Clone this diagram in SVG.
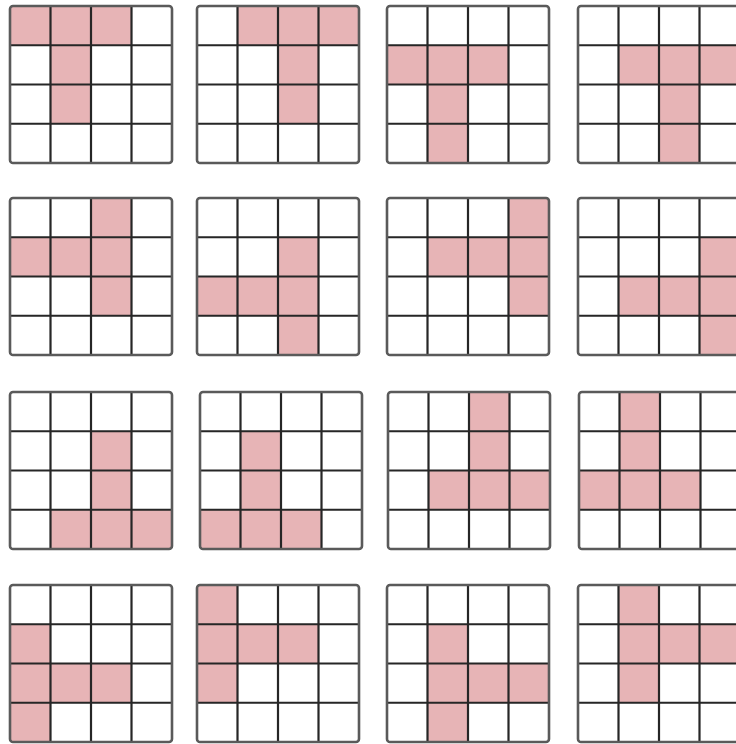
<svg xmlns="http://www.w3.org/2000/svg" width="736" height="744" viewBox="0 0 736 744">
<style>
.c{fill:#e7b4b6}
.in{fill:none;stroke:#262626;stroke-width:2.2}
.out{fill:none;stroke:#5a5a5a;stroke-width:2.6}
</style>
<defs>
<g id="lines">
<path class="in" d="M40.5 0V157M81 0V157M121.5 0V157M0 39.25H162M0 78.5H162M0 117.75H162"/>
<rect class="out" x="0" y="0" width="162" height="157" rx="3"/>
</g>
<rect id="cell" class="c" width="40.5" height="39.25"/>
</defs>
<rect width="736" height="744" fill="#fff"/>

<g id="g11" transform="translate(10,6)">
<use href="#cell" x="0" y="0"/><use href="#cell" x="40.5" y="0"/><use href="#cell" x="81" y="0"/><use href="#cell" x="40.5" y="39.25"/><use href="#cell" x="40.5" y="78.5"/>
<use href="#lines"/></g>
<g id="g12" transform="translate(197,6)">
<use href="#cell" x="40.5" y="0"/><use href="#cell" x="81" y="0"/><use href="#cell" x="121.5" y="0"/><use href="#cell" x="81" y="39.25"/><use href="#cell" x="81" y="78.5"/>
<use href="#lines"/></g>
<g id="g13" transform="translate(387,6)">
<use href="#cell" x="0" y="39.25"/><use href="#cell" x="40.5" y="39.25"/><use href="#cell" x="81" y="39.25"/><use href="#cell" x="40.5" y="78.5"/><use href="#cell" x="40.5" y="117.75"/>
<use href="#lines"/></g>
<g id="g14" transform="translate(578,6)">
<use href="#cell" x="40.5" y="39.25"/><use href="#cell" x="81" y="39.25"/><use href="#cell" x="121.5" y="39.25"/><use href="#cell" x="81" y="78.5"/><use href="#cell" x="81" y="117.75"/>
<use href="#lines"/></g>

<g id="g21" transform="translate(10,198)">
<use href="#cell" x="81" y="0"/><use href="#cell" x="0" y="39.25"/><use href="#cell" x="40.5" y="39.25"/><use href="#cell" x="81" y="39.25"/><use href="#cell" x="81" y="78.5"/>
<use href="#lines"/></g>
<g id="g22" transform="translate(197,198)">
<use href="#cell" x="81" y="39.25"/><use href="#cell" x="0" y="78.5"/><use href="#cell" x="40.5" y="78.5"/><use href="#cell" x="81" y="78.5"/><use href="#cell" x="81" y="117.75"/>
<use href="#lines"/></g>
<g id="g23" transform="translate(387,198)">
<use href="#cell" x="121.5" y="0"/><use href="#cell" x="40.5" y="39.25"/><use href="#cell" x="81" y="39.25"/><use href="#cell" x="121.5" y="39.25"/><use href="#cell" x="121.5" y="78.5"/>
<use href="#lines"/></g>
<g id="g24" transform="translate(578,198)">
<use href="#cell" x="121.5" y="39.25"/><use href="#cell" x="40.5" y="78.5"/><use href="#cell" x="81" y="78.5"/><use href="#cell" x="121.5" y="78.5"/><use href="#cell" x="121.5" y="117.75"/>
<use href="#lines"/></g>

<g id="g31" transform="translate(10,392)">
<use href="#cell" x="81" y="39.25"/><use href="#cell" x="81" y="78.5"/><use href="#cell" x="40.5" y="117.75"/><use href="#cell" x="81" y="117.75"/><use href="#cell" x="121.5" y="117.75"/>
<use href="#lines"/></g>
<g id="g32" transform="translate(200,392)">
<use href="#cell" x="40.5" y="39.25"/><use href="#cell" x="40.5" y="78.5"/><use href="#cell" x="0" y="117.75"/><use href="#cell" x="40.5" y="117.75"/><use href="#cell" x="81" y="117.75"/>
<use href="#lines"/></g>
<g id="g33" transform="translate(388,392)">
<use href="#cell" x="81" y="0"/><use href="#cell" x="81" y="39.25"/><use href="#cell" x="40.5" y="78.5"/><use href="#cell" x="81" y="78.5"/><use href="#cell" x="121.5" y="78.5"/>
<use href="#lines"/></g>
<g id="g34" transform="translate(579,392)">
<use href="#cell" x="40.5" y="0"/><use href="#cell" x="40.5" y="39.25"/><use href="#cell" x="0" y="78.5"/><use href="#cell" x="40.5" y="78.5"/><use href="#cell" x="81" y="78.5"/>
<use href="#lines"/></g>

<g id="g41" transform="translate(10,585)">
<use href="#cell" x="0" y="39.25"/><use href="#cell" x="0" y="78.5"/><use href="#cell" x="40.5" y="78.5"/><use href="#cell" x="81" y="78.5"/><use href="#cell" x="0" y="117.75"/>
<use href="#lines"/></g>
<g id="g42" transform="translate(197,585)">
<use href="#cell" x="0" y="0"/><use href="#cell" x="0" y="39.25"/><use href="#cell" x="40.5" y="39.25"/><use href="#cell" x="81" y="39.25"/><use href="#cell" x="0" y="78.5"/>
<use href="#lines"/></g>
<g id="g43" transform="translate(387,585)">
<use href="#cell" x="40.5" y="39.25"/><use href="#cell" x="40.5" y="78.5"/><use href="#cell" x="81" y="78.5"/><use href="#cell" x="121.5" y="78.5"/><use href="#cell" x="40.5" y="117.75"/>
<use href="#lines"/></g>
<g id="g44" transform="translate(578,585)">
<use href="#cell" x="40.5" y="0"/><use href="#cell" x="40.5" y="39.25"/><use href="#cell" x="81" y="39.25"/><use href="#cell" x="121.5" y="39.25"/><use href="#cell" x="40.5" y="78.5"/>
<use href="#lines"/></g>
</svg>
